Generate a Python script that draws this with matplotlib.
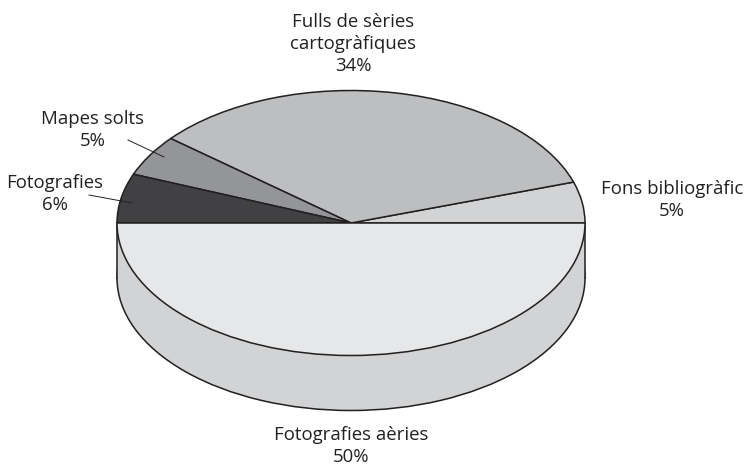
import matplotlib
matplotlib.use('Agg')
import matplotlib.pyplot as plt
from matplotlib.patches import Rectangle

categories = ['Fons bibliogràfic', 'Fulls de sèries\ncartogràfiques', 'Mapes solts', 'Fotografies', 'Fotografies aèries']
values = [5, 34, 5, 6, 50]
colors = ['#d1d3d4', '#bcbec0', '#939598', '#414042', '#e6e7e8']
side_color = '#d1d3d4'
edge = '#231f20'

W, H = 747, 465
cx, cy, rx, ry = 351, 223, 234, 132.5
depth = 55 / ry


def px(x, y):
    # picture pixels to data units
    return (x - cx) / rx, (cy - y) / ry


plt.rcParams['font.family'] = ['Open Sans', 'DejaVu Sans']

fig = plt.figure(figsize=(W / 100, H / 100), dpi=100)
ax = fig.add_axes([0, 0, 1, 1])

style = dict(edgecolor=edge, linewidth=1.1)

# side wall: lower disc plus a band up to the top disc
ax.pie([1], colors=[side_color], center=(0, -depth), radius=1, startangle=0,
       wedgeprops=dict(zorder=1, **style))
ax.add_patch(Rectangle((-1, -depth), 2, depth, facecolor=side_color, edgecolor='none', zorder=2))
ax.plot([-1, -1], [-depth, 0], color=edge, lw=1.1, zorder=3)
ax.plot([1, 1], [-depth, 0], color=edge, lw=1.1, zorder=3)

# top disc
ax.pie(values, colors=colors, center=(0, 0), radius=1, startangle=0, counterclock=True,
       wedgeprops=dict(zorder=4, joinstyle='round', **style))

ax.set_aspect('auto')
ax.set_xlim(-cx / rx, (W - cx) / rx)
ax.set_ylim((cy - H) / ry, cy / ry)
ax.axis('off')

# labels
label_pos = [(672, 200), (353, 44), (93, 130), (55, 194), (351, 446)]
for name, val, (x, y) in zip(categories, values, label_pos):
    ax.text(*px(x, y), f'{name}\n{val}%', ha='center', va='center', fontsize=13.4,
            color=edge, linespacing=1.28, zorder=6)

# leader lines
ax.plot(*zip(px(128, 140), px(164, 157)), color=edge, lw=0.7, zorder=6)
ax.plot(*zip(px(89, 195), px(132, 203)), color=edge, lw=0.7, zorder=6)

fig.savefig('out.png', dpi=100)
